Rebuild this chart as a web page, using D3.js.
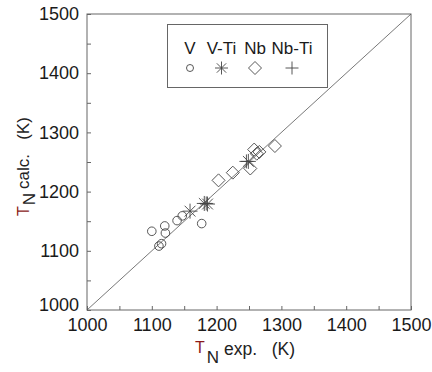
<!DOCTYPE html>
<html>
<head>
<meta charset="utf-8">
<script src="https://cdn.jsdelivr.net/npm/d3@7"></script>
<style>
  body { margin: 0; background: #fff; }
  svg { font-family: "Liberation Sans", Arial, sans-serif; }
</style>
</head>
<body>
<div class="chart"></div>
<script>
// values: [T_N exp, T_N calc]
const vData = [[1100,1133],[1120,1142],[1121,1130],[1111,1108],[1115,1112],[1139,1151],[1147,1159],[1177,1146]];
const vtiData = [[1159,1167],[1181,1180],[1186,1179],[1249,1251]];
const nbData = [[1203,1219],[1225,1232],[1252,1239],[1258,1271],[1262,1264],[1266,1267],[1290,1277]];
const nbtiData = [[1184,1180],[1246,1251]];
const tickVals = d3.range(1000, 1501, 50);
const legendNames = ["V", "V-Ti", "Nb", "Nb-Ti"];

const W = 432, H = 372;
const margin = {top: 14, right: 21, bottom: 62, left: 87};
const width = W - margin.left - margin.right;
const height = H - margin.top - margin.bottom;

const svg = d3.select('.chart').append('svg')
    .attr('width', W).attr('height', H);
const g = svg.append('g')
    .attr('transform', `translate(${margin.left},${margin.top})`);

const xScale = d3.scaleLinear().domain([1000, 1500]).range([0, width]);
const yScale = d3.scaleLinear().domain([1000, 1500]).range([height, 0]);

const fmt = d => d % 100 === 0 ? d : "";

const xAxis = d3.axisBottom(xScale).tickValues(tickVals).tickSize(-4).tickPadding(8).tickFormat(fmt);
const yAxis = d3.axisLeft(yScale).tickValues(tickVals).tickSize(-4).tickPadding(8).tickFormat(fmt);

const gx = g.append('g').attr('transform', `translate(0,${height})`).call(xAxis);
const gy = g.append('g').call(yAxis);
[gx, gy].forEach(a => {
    a.select('.domain').remove();
    a.selectAll('line').attr('stroke', '#666');
    a.selectAll('text').attr('font-size', '18px').attr('fill', '#1a1a1a')
        .attr('font-family', '"Liberation Sans", Arial, sans-serif');
});
// lowest y label is lifted a little in the original
gy.selectAll('text').filter(d => d === 1000).attr('dy', '0.0em');

// frame
g.append('rect').attr('width', width).attr('height', height)
    .attr('fill', 'none').attr('stroke', '#666').attr('stroke-width', 1);

// diagonal
g.append('line')
    .attr('x1', xScale(1000)).attr('y1', yScale(1000))
    .attr('x2', xScale(1500)).attr('y2', yScale(1500))
    .attr('stroke', '#555').attr('stroke-width', 0.8);

// symbol paths
const circlePath = r => `M${r},0A${r},${r} 0 1,1 ${-r},0A${r},${r} 0 1,1 ${r},0Z`;
const diamondPath = s => `M0,${-s}L${s},0L0,${s}L${-s},0Z`;
const plusPath = s => `M${-s},0H${s}M0,${-s}V${s}`;
const starPath = s => {
    const d = s * 0.72;
    return `M${-s},0H${s}M0,${-s}V${s}M${-d},${-d}L${d},${d}M${-d},${d}L${d},${-d}`;
};

const series = [
    {data: vData, path: circlePath(4.3)},
    {data: nbData, path: diamondPath(6.5)},
    {data: vtiData, path: starPath(7.5)},
    {data: nbtiData, path: plusPath(7)}
];
series.forEach(s => {
    g.selectAll(null).data(s.data).enter().append('path')
        .attr('d', s.path)
        .attr('transform', d => `translate(${xScale(d[0])},${yScale(d[1])})`)
        .attr('fill', 'none').attr('stroke', '#444').attr('stroke-width', 0.9);
});

// legend
const lg = svg.append('g');
lg.append('rect').attr('x', 167.5).attr('y', 24.5).attr('width', 160).attr('height', 63)
    .attr('fill', '#fff').attr('stroke', '#666');
const legX = [190, 221.5, 255, 292];
const legSyms = [circlePath(3.5), starPath(6.5), diamondPath(6.5), plusPath(6.5)];
lg.selectAll('text.lt').data(legendNames).enter().append('text')
    .attr('class', 'lt')
    .attr('x', (d, i) => legX[i]).attr('y', 54)
    .attr('text-anchor', 'middle').attr('font-size', '17px').attr('fill', '#1a1a1a')
    .text(d => d);
lg.selectAll('path.ls').data(legSyms).enter().append('path')
    .attr('class', 'ls')
    .attr('d', d => d)
    .attr('transform', (d, i) => `translate(${legX[i]},68)`)
    .attr('fill', 'none').attr('stroke', '#444').attr('stroke-width', 0.9);

// x axis label
const xl = svg.append('text').attr('x', 195).attr('y', 353).attr('fill', '#222');
xl.append('tspan').attr('font-size', '16px').attr('fill', '#8b1a1a').text('T');
xl.append('tspan').attr('font-size', '17px').attr('dx', 2).attr('dy', 10).text('N');
xl.append('tspan').attr('font-size', '17.5px').attr('dx', 5).attr('dy', -8).attr('xml:space', 'preserve').text('exp.   (K)');

// y axis label
const yl = svg.append('text')
    .attr('transform', 'translate(29,216) rotate(-90)').attr('fill', '#222');
yl.append('tspan').attr('font-size', '16px').attr('fill', '#8b1a1a').text('T');
yl.append('tspan').attr('font-size', '17px').attr('dx', 1).attr('dy', 6).text('N');
yl.append('tspan').attr('font-size', '17px').attr('dx', 4).attr('dy', -6).attr('xml:space', 'preserve').text('calc.   (K)');
</script>
</body>
</html>
